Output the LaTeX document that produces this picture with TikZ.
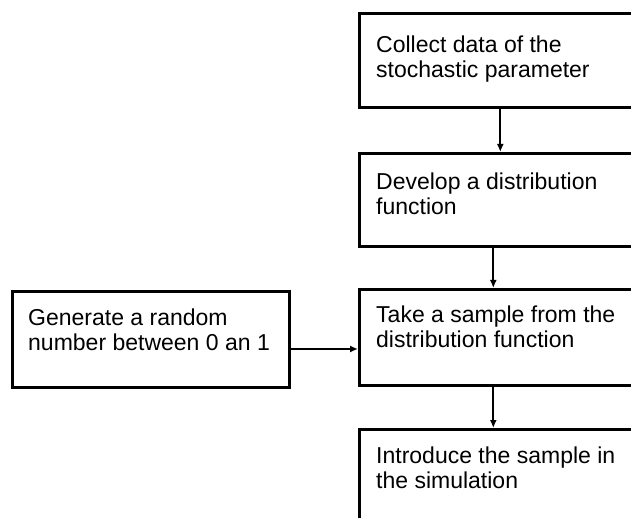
\documentclass[tikz,border=0pt]{standalone}
\usepackage{fontspec}
\setmainfont{Liberation Sans}
\usetikzlibrary{arrows.meta}
\begin{document}
\begin{tikzpicture}[x=1pt,y=1pt,
  box/.style={draw=black, line width=2.6pt, fill=white, rectangle, inner sep=0pt, anchor=north west},
  txt/.style={anchor=base west, inner sep=0pt, font=\fontsize{23}{25}\selectfont},
  arr/.style={line width=1.8pt, -{Latex[length=8pt,width=7pt]}}]
\clip (0,0) rectangle (631,-518);
\fill[white] (0,0) rectangle (631,-518);
% right column boxes (extend past the right/bottom edges)
\node[box, minimum width=287pt, minimum height=94pt] (b1) at (358,-12) {};
\node[box, minimum width=287pt, minimum height=93pt] (b2) at (358,-152) {};
\node[box, minimum width=287pt, minimum height=96pt] (b3) at (358,-288) {};
\node[box, minimum width=287pt, minimum height=120pt] (b4) at (358,-428) {};
% left box
\node[box, minimum width=277pt, minimum height=96pt] (g) at (11,-290) {};
% texts
\node[txt] (t1) at (376,-53) {\parbox[t]{260pt}{Collect data of the\\stochastic parameter}};
\node[txt] (t2) at (376,-190) {\parbox[t]{260pt}{Develop a distribution\\function}};
\node[txt] (t3) at (376,-322) {\parbox[t]{260pt}{Take a sample from the\\distribution function}};
\node[txt] (t4) at (376,-463) {\parbox[t]{260pt}{Introduce the sample in\\the simulation}};
\node[txt] (tg) at (28,-325) {\parbox[t]{260pt}{Generate a random\\number between 0 an 1}};
% connectors
\draw[arr] ([xshift=-2.5pt]b1.south) -- ([xshift=-2.5pt]b2.north);
\draw[arr] ([xshift=-9.5pt]b2.south) -- ([xshift=-9.5pt]b3.north);
\draw[arr] ([xshift=-9.5pt]b3.south) -- ([xshift=-9.5pt]b4.north);
\draw[arr] (g.east |- 0,-349) -- (b3.west |- 0,-349);
\end{tikzpicture}
\end{document}
